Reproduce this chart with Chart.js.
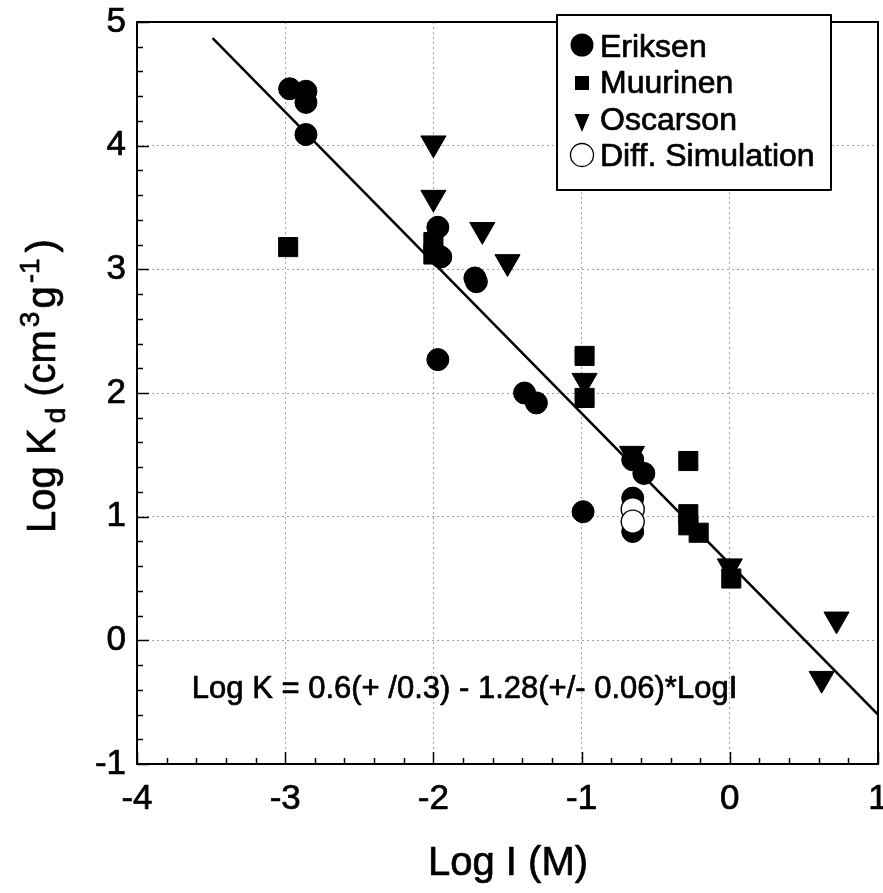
<!DOCTYPE html>
<html>
<head>
<meta charset="utf-8">
<script src="https://cdn.jsdelivr.net/npm/chart.js@4.4.1/dist/chart.umd.min.js"></script>
<style>
  html, body { margin: 0; padding: 0; background: #fff; }
  canvas { display: block; }
</style>
</head>
<body>
<canvas id="c" width="883" height="893"></canvas>
<script>
// ---- data ----
const seriesNames = ['Eriksen', 'Muurinen', 'Oscarson', 'Diff. Simulation'];

const eriksenX = [-2.97, -2.86, -2.86, -2.86, -1.97, -1.95, -1.97, -1.72, -1.71, -1.385, -1.305, -0.99, -0.655, -0.58, -0.655, -0.655];
const eriksenY = [4.46, 4.44, 4.35, 4.09, 3.34, 3.10, 2.27, 2.93, 2.90, 2.00, 1.92, 1.04, 1.46, 1.35, 1.15, 0.88];

const muurinenX = [-2.98, -2.0, -2.0, -0.98, -0.98, -0.28, -0.28, -0.28, -0.21, 0.01];
const muurinenY = [3.18, 3.22, 3.12, 2.30, 1.96, 1.45, 1.02, 0.93, 0.87, 0.50];

const oscarsonX = [-2.0, -2.0, -1.67, -1.50, -0.98, -0.66, 0.0, 0.72, 0.62];
const oscarsonY = [4.02, 3.58, 3.32, 3.06, 2.10, 1.51, 0.60, 0.17, -0.31];

const simX = [-0.655, -0.655];
const simY = [1.06, 0.96];

const fitX = [-3.49, 1.0];
const fitY = [4.87, -0.60];

const xTicks = [-4, -3, -2, -1, 0, 1];
const yTicks = [-1, 0, 1, 2, 3, 4, 5];

const fitText = 'Log K = 0.6(+ /0.3) - 1.28(+/- 0.06)*LogI';
const fitTextPos = { x: -3.63, y: -0.47 };

const xTitle = 'Log I (M)';

// ---- helpers ----
const pts = (xs, ys) => xs.map((x, i) => ({ x: x, y: ys[i] }));
const FONT = '"Liberation Sans", Arial, Helvetica, sans-serif';

function heavyText(ctx, t, x, y, w) {
  ctx.lineWidth = w;
  ctx.lineJoin = 'round';
  ctx.strokeText(t, x, y);
  ctx.fillText(t, x, y);
}

const framePlugin = {
  id: 'frame',
  afterDraw(chart) {
    const { ctx, chartArea: a, scales: { x, y } } = chart;
    ctx.save();
    ctx.strokeStyle = '#000';
    ctx.lineCap = 'butt';
    // inner ticks on bottom and left axes
    ctx.lineWidth = 1.5;
    const xmin = xTicks[0], xmax = xTicks[xTicks.length - 1];
    const nx = Math.round((xmax - xmin) / 0.2);
    for (let i = 0; i <= nx; i++) {
      const v = xmin + i * 0.2;
      const px = Math.round(x.getPixelForValue(v)) + 0.5;
      const len = (i % 5 === 0) ? 12 : 6;
      ctx.beginPath();
      ctx.moveTo(px, a.bottom);
      ctx.lineTo(px, a.bottom - len);
      ctx.stroke();
    }
    const ymin = yTicks[0], ymax = yTicks[yTicks.length - 1];
    const ny = Math.round((ymax - ymin) / 0.2);
    for (let i = 0; i <= ny; i++) {
      const v = ymin + i * 0.2;
      const py = Math.round(y.getPixelForValue(v)) + 0.5;
      const len = (i % 5 === 0) ? 12 : 6;
      ctx.beginPath();
      ctx.moveTo(a.left, py);
      ctx.lineTo(a.left + len, py);
      ctx.stroke();
    }
    // frame
    ctx.lineWidth = 2;
    ctx.strokeRect(a.left, a.top, a.right - a.left, a.bottom - a.top);

    // fit equation
    ctx.fillStyle = '#000';
    ctx.strokeStyle = '#000';
    ctx.font = '31px ' + FONT;
    ctx.textBaseline = 'alphabetic';
    ctx.textAlign = 'left';
    heavyText(ctx, fitText, x.getPixelForValue(fitTextPos.x), y.getPixelForValue(fitTextPos.y), 0.7);

    // legend box
    const L = 557, T = 15, R = 831, B = 190;
    ctx.fillStyle = '#fff';
    ctx.fillRect(L, T, R - L, B - T);
    ctx.lineWidth = 2;
    ctx.strokeStyle = '#000';
    ctx.strokeRect(L, T, R - L, B - T);
    const mx = 582;
    const rows = [57, 93, 130, 166];
    ctx.fillStyle = '#000';
    ctx.beginPath(); ctx.arc(mx, 45, 11.5, 0, Math.PI * 2); ctx.fill();
    ctx.fillRect(mx - 7, 76, 14, 14);
    ctx.beginPath(); ctx.moveTo(mx - 7.5, 114); ctx.lineTo(mx + 7.5, 114); ctx.lineTo(mx, 132); ctx.closePath(); ctx.fill();
    ctx.lineWidth = 1.3;
    ctx.beginPath(); ctx.arc(mx, 155, 11.5, 0, Math.PI * 2); ctx.stroke();
    ctx.font = '32px ' + FONT;
    seriesNames.forEach((n, i) => heavyText(ctx, n, 600, rows[i], 0.7));

    // y-axis title with subscript / superscripts
    const parts = [
      { t: 'Log K', s: 40, dy: 0, g: 5 },
      { t: 'd', s: 28, dy: 10, g: 11 },
      { t: '(cm', s: 40, dy: 0, g: 3 },
      { t: '3', s: 28, dy: -16, g: 3 },
      { t: 'g', s: 40, dy: 0, g: 3 },
      { t: '-1', s: 28, dy: -16, g: 6 },
      { t: ')', s: 40, dy: 0, g: 0 }
    ];
    let total = 0;
    parts.forEach(p => { ctx.font = p.s + 'px ' + FONT; p.w = ctx.measureText(p.t).width; total += p.w + p.g; });
    ctx.save();
    ctx.translate(55, 386);
    ctx.rotate(-Math.PI / 2);
    let cx = -total / 2;
    parts.forEach(p => {
      ctx.font = p.s + 'px ' + FONT;
      heavyText(ctx, p.t, cx, p.dy, 0.7);
      cx += p.w + p.g;
    });
    ctx.restore();

    // x-axis title
    ctx.font = '40px ' + FONT;
    ctx.textAlign = 'center';
    heavyText(ctx, xTitle, 508, 875, 0.7);
    ctx.restore();
  }
};

const gridColor = (ctx) => {
  const v = ctx.tick ? ctx.tick.value : null;
  return ctx.scale.axis === 'x'
    ? ((v > xTicks[0] && v < xTicks[xTicks.length - 1]) ? '#a0a0a0' : 'rgba(0,0,0,0)')
    : ((v > yTicks[0] && v < yTicks[yTicks.length - 1]) ? '#a0a0a0' : 'rgba(0,0,0,0)');
};

new Chart(document.getElementById('c'), {
  type: 'scatter',
  data: {
    datasets: [
      {
        label: seriesNames[3], data: pts(simX, simY), pointStyle: 'circle', pointRadius: 11.5,
        backgroundColor: '#fff', borderColor: '#000', borderWidth: 1.4, order: 0
      },
      {
        label: seriesNames[1], data: pts(muurinenX, muurinenY), pointStyle: 'rect', pointRadius: 13.5,
        backgroundColor: '#000', borderColor: '#000', borderWidth: 1, order: 1
      },
      {
        label: seriesNames[2], data: pts(oscarsonX, oscarsonY), pointStyle: 'triangle', pointRotation: 180,
        pointRadius: 14.5, backgroundColor: '#000', borderColor: '#000', borderWidth: 1, order: 2
      },
      {
        label: seriesNames[0], data: pts(eriksenX, eriksenY), pointStyle: 'circle', pointRadius: 11,
        backgroundColor: '#000', borderColor: '#000', borderWidth: 1, order: 3
      },
      {
        label: 'fit', type: 'line', data: pts(fitX, fitY), showLine: true, pointRadius: 0,
        borderColor: '#000', borderWidth: 2.5, fill: false, order: 4
      }
    ]
  },
  options: {
    responsive: false,
    devicePixelRatio: 1,
    animation: false,
    events: [],
    layout: { autoPadding: false, padding: { top: 22, right: 5, bottom: 0, left: 0 } },
    plugins: { legend: { display: false }, tooltip: { enabled: false } },
    scales: {
      x: {
        type: 'linear', min: xTicks[0], max: xTicks[xTicks.length - 1],
        afterBuildTicks: (s) => { s.ticks = xTicks.map(v => ({ value: v })); },
        ticks: { color: '#000', font: { family: FONT, size: 35 }, padding: 14, maxRotation: 0,
                 textStrokeColor: '#000', textStrokeWidth: 0.7 },
        grid: { color: gridColor, drawTicks: false, lineWidth: 1 },
        border: { display: false, dash: [2, 3] },
        afterFit: (s) => { s.height = 129; s.paddingLeft = 0; s.paddingRight = 0; }
      },
      y: {
        type: 'linear', min: yTicks[0], max: yTicks[yTicks.length - 1],
        afterBuildTicks: (s) => { s.ticks = yTicks.map(v => ({ value: v })); },
        ticks: { color: '#000', font: { family: FONT, size: 35 }, padding: 11,
                 textStrokeColor: '#000', textStrokeWidth: 0.7 },
        grid: { color: gridColor, drawTicks: false, lineWidth: 1 },
        border: { display: false, dash: [2, 3] },
        afterFit: (s) => { s.width = 137; s.paddingTop = 0; s.paddingBottom = 0; }
      }
    }
  },
  plugins: [framePlugin]
});
</script>
</body>
</html>
